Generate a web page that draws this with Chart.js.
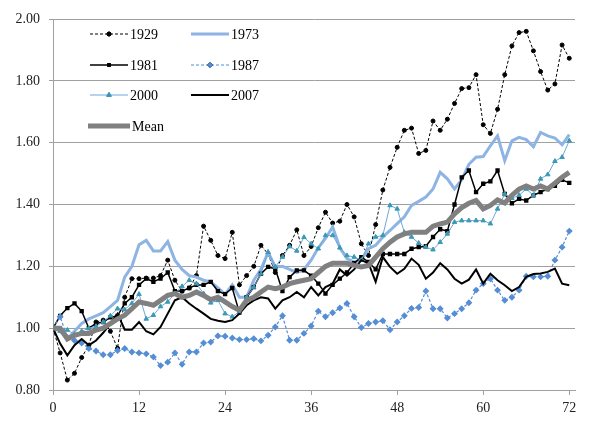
<!DOCTYPE html>
<html lang="en">

<head>
    <meta charset="UTF-8" />
    <title>Cumulative index by month</title>
    <script src="https://cdn.jsdelivr.net/npm/chart.js@4.4.1/dist/chart.umd.min.js"></script>
    <style>
        body { margin: 0; background: #fff; }
        #wrap { width: 605px; height: 421px; }
    </style>
</head>

<body>
    <div id="wrap"><canvas id="lineChart" width="605" height="421"></canvas></div>

    <script>
        // months since start (x categories) and axis ticks
        const months = Array.from({ length: 73 }, (_, i) => i);
        const xTicks = [0, 12, 24, 36, 48, 60, 72];
        const yTicks = [0.8, 1.0, 1.2, 1.4, 1.6, 1.8, 2.0];

        // series values
        const y1929 = [1.00, 0.92, 0.832, 0.854, 0.905, 0.945, 1.02, 1.026, 0.99, 0.935,
            1.10, 1.16, 1.16, 1.162, 1.162, 1.17, 1.22, 1.155, 1.12, 1.13,
            1.17, 1.33, 1.284, 1.235, 1.225, 1.31, 1.14, 1.17, 1.20, 1.268,
            1.24, 1.18, 1.235, 1.268, 1.318, 1.235, 1.264, 1.325, 1.375, 1.34,
            1.346, 1.40, 1.36, 1.273, 1.235, 1.335, 1.447, 1.52, 1.585, 1.64,
            1.647, 1.565, 1.575, 1.67, 1.64, 1.676, 1.727, 1.775, 1.778, 1.82,
            1.658, 1.63, 1.708, 1.82, 1.913, 1.956, 1.96, 1.897, 1.83, 1.77,
            1.79, 1.916, 1.873];
        const y1973 = [1.00, 0.99, 0.965, 0.99, 1.015, 1.03, 1.04, 1.05, 1.07, 1.09,
            1.165, 1.20, 1.27, 1.284, 1.25, 1.25, 1.28, 1.22, 1.19, 1.17,
            1.165, 1.155, 1.15, 1.13, 1.11, 1.14, 1.10, 1.10, 1.155, 1.19,
            1.246, 1.198, 1.20, 1.19, 1.18, 1.19, 1.22, 1.26, 1.29, 1.327,
            1.26, 1.225, 1.214, 1.22, 1.257, 1.268, 1.295, 1.316, 1.338, 1.36,
            1.397, 1.41, 1.424, 1.45, 1.504, 1.483, 1.45, 1.48, 1.53, 1.553,
            1.555, 1.59, 1.622, 1.542, 1.606, 1.617, 1.61, 1.587, 1.633, 1.622,
            1.615, 1.593, 1.626];
        const y1981 = [1.00, 1.04, 1.065, 1.08, 1.055, 1.00, 1.015, 1.02, 1.035, 1.04,
            1.08, 1.10, 1.14, 1.16, 1.15, 1.16, 1.18, 1.12, 1.12, 1.13,
            1.14, 1.14, 1.15, 1.12, 1.11, 1.13, 1.05, 1.10, 1.133, 1.176,
            1.198, 1.192, 1.12, 1.165, 1.187, 1.187, 1.17, 1.144, 1.112, 1.14,
            1.16, 1.18, 1.21, 1.23, 1.214, 1.19, 1.24, 1.24, 1.24, 1.24,
            1.257, 1.262, 1.265, 1.295, 1.32, 1.314, 1.40, 1.488, 1.51, 1.44,
            1.467, 1.475, 1.51, 1.434, 1.404, 1.418, 1.413, 1.43, 1.44, 1.45,
            1.46, 1.48, 1.47];
        const y1987 = [1.00, 1.037, 0.97, 0.96, 0.952, 0.934, 0.926, 0.914, 0.914, 0.928,
            0.934, 0.923, 0.92, 0.917, 0.907, 0.879, 0.89, 0.92, 0.883, 0.923,
            0.923, 0.952, 0.955, 0.975, 0.974, 0.968, 0.963, 0.963, 0.966, 0.959,
            0.977, 1.004, 1.04, 0.961, 0.961, 0.983, 1.007, 1.055, 1.037, 1.05,
            1.065, 1.08, 1.037, 1.002, 1.015, 1.02, 1.024, 0.995, 1.02, 1.04,
            1.064, 1.067, 1.12, 1.063, 1.063, 1.033, 1.047, 1.063, 1.082, 1.123,
            1.144, 1.16, 1.123, 1.09, 1.10, 1.123, 1.168, 1.166, 1.166, 1.168,
            1.22, 1.262, 1.314];
        const y2000 = [1.00, 0.99, 0.994, 0.98, 0.99, 1.00, 1.006, 1.02, 1.04, 1.063,
            1.06, 1.08, 1.11, 1.03, 1.042, 1.07, 1.085, 1.112, 1.135, 1.155,
            1.144, 1.112, 1.082, 1.09, 1.047, 1.037, 1.053, 1.10, 1.133, 1.176,
            1.246, 1.198, 1.23, 1.264, 1.25, 1.294, 1.273, 1.257, 1.30, 1.30,
            1.26, 1.235, 1.23, 1.22, 1.273, 1.295, 1.30, 1.397, 1.386, 1.31,
            1.295, 1.275, 1.262, 1.254, 1.278, 1.305, 1.343, 1.348, 1.348, 1.348,
            1.348, 1.338, 1.386, 1.434, 1.42, 1.43, 1.45, 1.43, 1.483, 1.497,
            1.54, 1.553, 1.606];
        const y2007 = [1.00, 0.95, 0.912, 0.945, 0.965, 0.945, 0.96, 0.985, 1.015, 1.047,
            0.995, 0.995, 1.02, 0.99, 0.98, 1.004, 1.047, 1.09, 1.10, 1.08,
            1.063, 1.047, 1.03, 1.024, 1.02, 1.026, 1.047, 1.074, 1.09, 1.10,
            1.096, 1.063, 1.09, 1.10, 1.117, 1.10, 1.133, 1.106, 1.133, 1.144,
            1.19, 1.17, 1.19, 1.22, 1.21, 1.15, 1.23, 1.198, 1.176, 1.192,
            1.225, 1.205, 1.16, 1.18, 1.21, 1.19, 1.16, 1.144, 1.157, 1.19,
            1.144, 1.176, 1.155, 1.139, 1.12, 1.133, 1.166, 1.175, 1.177, 1.182,
            1.193, 1.144, 1.139];
        const yMean = [1.00, 1.00, 0.965, 0.977, 0.983, 0.983, 0.994, 1.00, 1.015, 1.03,
            1.042, 1.063, 1.085, 1.08, 1.074, 1.09, 1.106, 1.112, 1.10, 1.106,
            1.117, 1.106, 1.092, 1.10, 1.085, 1.07, 1.058, 1.09, 1.10, 1.117,
            1.133, 1.128, 1.133, 1.144, 1.15, 1.155, 1.16, 1.18, 1.20, 1.21,
            1.21, 1.21, 1.203, 1.198, 1.203, 1.23, 1.257, 1.278, 1.295, 1.305,
            1.31, 1.31, 1.31, 1.33, 1.337, 1.343, 1.37, 1.39, 1.404, 1.413,
            1.386, 1.397, 1.415, 1.405, 1.43, 1.45, 1.46, 1.45, 1.46, 1.45,
            1.469, 1.488, 1.504];

        const FONT = "'Liberation Serif', 'Times New Roman', serif";
        const toPoints = (vals) => vals.map((v, i) => ({ x: months[i], y: v }));

        // legend drawn inside the plot, two columns like the original
        const insideLegend = {
            id: 'insideLegend',
            afterDatasetsDraw(chart) {
                const ctx = chart.ctx;
                const spots = [
                    [90, 34], [191, 34],
                    [90, 65], [191, 65],
                    [90, 95], [191, 95],
                    [88, 126]
                ];
                ctx.save();
                ctx.font = '14px ' + FONT;
                ctx.textBaseline = 'middle';
                ctx.fillStyle = '#000';
                chart.data.datasets.forEach((ds, i) => {
                    const [x, y] = spots[i];
                    const len = i === 6 ? 42 : 38;
                    ctx.save();
                    ctx.strokeStyle = ds.borderColor;
                    ctx.lineWidth = ds.borderWidth;
                    ctx.setLineDash(ds.borderDash || []);
                    ctx.beginPath();
                    ctx.moveTo(x, y);
                    ctx.lineTo(x + len, y);
                    ctx.stroke();
                    ctx.restore();
                    if (ds.pointRadius > 0) {
                        Chart.helpers.drawPoint(ctx, {
                            pointStyle: ds.pointStyle,
                            radius: ds.pointRadius,
                            rotation: 0,
                            borderWidth: 1
                        }, x + len / 2, y);
                        ctx.fillStyle = ds.pointBackgroundColor;
                        ctx.strokeStyle = ds.pointBorderColor;
                        Chart.helpers.drawPoint(ctx, {
                            pointStyle: ds.pointStyle,
                            radius: ds.pointRadius,
                            rotation: 0,
                            borderWidth: 1
                        }, x + len / 2, y);
                        ctx.fillStyle = '#000';
                    }
                    ctx.fillText(ds.label, x + len + 2, y + 1);
                });
                ctx.restore();
            }
        };

        new Chart(document.getElementById('lineChart'), {
            type: 'line',
            data: {
                datasets: [
                    {
                        label: '1929', data: toPoints(y1929), order: 6,
                        borderColor: '#000', borderWidth: 1, borderDash: [3, 2],
                        pointStyle: 'circle', pointRadius: 2,
                        pointBackgroundColor: '#000', pointBorderColor: '#000'
                    },
                    {
                        label: '1973', data: toPoints(y1973), order: 5,
                        borderColor: '#8db4e2', borderWidth: 3, pointRadius: 0
                    },
                    {
                        label: '1981', data: toPoints(y1981), order: 4,
                        borderColor: '#000', borderWidth: 1.5,
                        pointStyle: 'rect', pointRadius: 2,
                        pointBackgroundColor: '#000', pointBorderColor: '#000'
                    },
                    {
                        label: '1987', data: toPoints(y1987), order: 3,
                        borderColor: '#558ed5', borderWidth: 1.2, borderDash: [3, 2],
                        pointStyle: 'rectRot', pointRadius: 2.6,
                        pointBackgroundColor: '#558ed5', pointBorderColor: '#558ed5'
                    },
                    {
                        label: '2000', data: toPoints(y2000), order: 2,
                        borderColor: '#6fa6dc', borderWidth: 1,
                        pointStyle: 'triangle', pointRadius: 2.6,
                        pointBackgroundColor: '#3a9ab5', pointBorderColor: '#3a9ab5'
                    },
                    {
                        label: '2007', data: toPoints(y2007), order: 1,
                        borderColor: '#000', borderWidth: 2, pointRadius: 0
                    },
                    {
                        label: 'Mean', data: toPoints(yMean), order: 0,
                        borderColor: '#808080', borderWidth: 5, pointRadius: 0
                    }
                ]
            },
            options: {
                responsive: false,
                animation: false,
                devicePixelRatio: 1,
                layout: { padding: { top: 19, right: 30, left: 0, bottom: 0 } },
                elements: { line: { tension: 0 } },
                plugins: {
                    legend: { display: false },
                    tooltip: { enabled: false }
                },
                scales: {
                    x: {
                        type: 'linear',
                        min: 0,
                        max: 72.8,
                        afterBuildTicks: (s) => { s.ticks = xTicks.map(v => ({ value: v })); },
                        afterFit: (s) => { s.height = 31; },
                        grid: { drawOnChartArea: false, tickLength: 5, color: '#a0a0a0' },
                        border: { color: '#a0a0a0', width: 1 },
                        ticks: {
                            padding: 5,
                            color: '#222',
                            font: { family: FONT, size: 14 },
                            maxRotation: 0,
                            callback: (v) => String(v)
                        }
                    },
                    y: {
                        min: 0.8,
                        max: 2.0,
                        afterBuildTicks: (s) => { s.ticks = yTicks.map(v => ({ value: v })); },
                        afterFit: (s) => { s.width = 53; },
                        grid: { color: '#a0a0a0', tickLength: 4 },
                        border: { color: '#a0a0a0', width: 1 },
                        ticks: {
                            padding: 9,
                            color: '#222',
                            font: { family: FONT, size: 14 },
                            callback: (v) => Number(v).toFixed(2)
                        }
                    }
                }
            },
            plugins: [insideLegend]
        });
    </script>
</body>

</html>
